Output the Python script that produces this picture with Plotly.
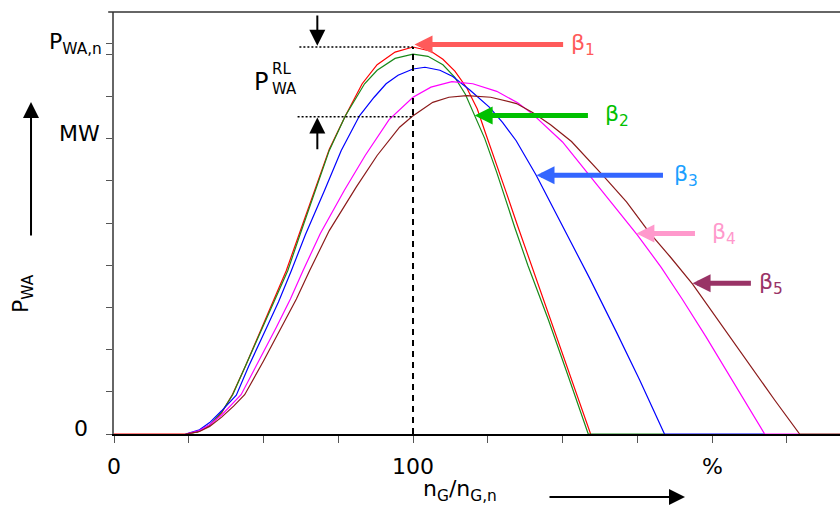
import plotly.graph_objects as go

# ---- data (x in % of n_G,n, y in tick units of P_WA) ----
beta1_x = [0, 24, 28, 32, 36, 39.5, 44, 49.5, 54, 57.6, 62, 67, 72, 77.4, 83, 88, 94, 100, 106, 110, 114, 118, 121.5, 124, 127, 131.2, 135, 139, 146, 152.5, 159.4]
beta1_y = [0, 0, 0.05, 0.2, 0.5, 0.92, 1.62, 2.53, 3.28, 3.87, 4.75, 5.77, 6.75, 7.54, 8.3, 8.75, 9.05, 9.17, 9.07, 8.88, 8.6, 8.2, 7.7, 7.18, 6.55, 5.72, 4.93, 4.12, 2.7, 1.38, 0]

beta2_x = [24, 28, 32, 36, 39.7, 44, 49.8, 54, 58.1, 62, 67.4, 72, 77.4, 83.8, 88, 94, 100, 105, 110, 114, 117.5, 120, 124, 128, 130, 134, 138.4, 145.3, 152, 158.6, 184.1]
beta2_y = [0, 0.05, 0.21, 0.52, 0.93, 1.62, 2.53, 3.22, 3.87, 4.68, 5.77, 6.72, 7.54, 8.3, 8.62, 8.9, 9.0, 8.95, 8.75, 8.45, 8.05, 7.65, 7.0, 6.2, 5.75, 4.9, 4.0, 2.7, 1.35, 0, 0]

beta3_x = [24, 28.6, 32, 36, 40.9, 45, 51.1, 55, 59.3, 64, 70.4, 76, 82.1, 87, 91, 95, 100, 104, 109, 113.3, 119, 125.6, 130, 134.5, 141.2, 150.1, 159, 168, 175.8, 184.1, 217.6]
beta3_y = [0, 0.1, 0.27, 0.55, 0.92, 1.6, 2.53, 3.13, 3.87, 4.72, 5.77, 6.72, 7.54, 7.98, 8.3, 8.5, 8.65, 8.69, 8.62, 8.47, 8.15, 7.74, 7.38, 6.95, 6.13, 4.92, 3.7, 2.42, 1.28, 0, 0]

beta4_x = [24, 28.6, 32, 36, 42.5, 48, 54.3, 59, 63.2, 69, 77, 84, 92, 100, 106, 113, 120, 128, 135, 140, 150, 159, 167, 175, 183, 190, 198, 206.9, 217.6, 229.3]
beta4_y = [0, 0.08, 0.22, 0.45, 0.93, 1.66, 2.53, 3.2, 3.87, 4.75, 5.77, 6.6, 7.45, 7.98, 8.22, 8.35, 8.3, 8.12, 7.85, 7.58, 6.92, 6.13, 5.42, 4.72, 3.95, 3.2, 2.3, 1.25, 0, 0]

beta5_x = [24, 28.6, 32, 36, 40, 43.7, 50, 55.9, 61, 65.4, 72, 81, 88, 95.5, 99.8, 106.6, 112, 118, 126, 134.6, 140, 146, 153, 163.5, 171.4, 179, 186, 193.5, 200, 207, 214, 221, 229.3, 243]
beta5_y = [0, 0.06, 0.18, 0.4, 0.66, 0.93, 1.73, 2.53, 3.2, 3.87, 4.82, 5.85, 6.6, 7.27, 7.53, 7.86, 7.98, 8.02, 7.98, 7.83, 7.62, 7.33, 6.93, 6.13, 5.5, 4.78, 4.2, 3.55, 2.9, 2.2, 1.5, 0.8, 0, 0]

curve_colors = ["#ff0000", "#1a8a1a", "#0000ff", "#ff00ff", "#8b1a1a"]

# tick values / labels
x_ticks = [0, 25, 50, 75, 100, 125, 150, 175, 200, 225]
x_tick_labels = ["0", "100", "%"]
x_tick_label_pos = [0, 100, 200]
y_ticks = [0, 1, 2, 3, 4, 5, 6, 7, 8, 9, 9.25]
y_tick_labels = ["0", "MW", "P<sub>WA,n</sub>"]
y_tick_label_pos = [0, 7, 9.25]
y_tick_label_shift = [6, 5, 0]
y_tick_label_xshift = [-33, -35, -39]

# reference levels
p_wa_n = 9.17
p_rl_low = 7.52
nominal_x = 100

# beta arrow annotations
beta_labels = ["β<sub>1</sub>", "β<sub>2</sub>", "β<sub>3</sub>", "β<sub>4</sub>", "β<sub>5</sub>"]
beta_tip_x = [100.5, 120.6, 141.3, 174.7, 193.5]
beta_tip_y = [9.23, 7.55, 6.13, 4.75, 3.57]
beta_tail_x = [150.7, 159.0, 184.1, 194.8, 213.5]
beta_label_x = [152.3, 163.4, 186.5, 199.2, 214.9]
beta_arrow_colors = ["#ff5a5a", "#00c000", "#3366ff", "#ff99cc", "#993366"]
beta_text_colors = ["#ff5a5a", "#00c000", "#1aa0ff", "#ff99cc", "#993366"]

FONT = "DejaVu Sans"

fig = go.Figure()
series = [(beta1_x, beta1_y), (beta2_x, beta2_y), (beta3_x, beta3_y), (beta4_x, beta4_y), (beta5_x, beta5_y)]
for i, (xs, ys) in enumerate(series):
    fig.add_trace(go.Scatter(x=xs, y=ys, mode="lines",
                             line=dict(color=curve_colors[i], width=1.2),
                             showlegend=False, hoverinfo="skip", cliponaxis=False))

shapes = []
shapes.append(dict(type="line", xref="x", yref="y", x0=nominal_x, x1=nominal_x, y0=0, y1=p_wa_n,
                   line=dict(color="black", width=2, dash="6px,5px")))
shapes.append(dict(type="line", xref="x", yref="y", x0=62, x1=nominal_x, y0=p_wa_n, y1=p_wa_n,
                   line=dict(color="black", width=1.5, dash="2px,2px")))
shapes.append(dict(type="line", xref="x", yref="y", x0=61.4, x1=nominal_x, y0=p_rl_low, y1=p_rl_low,
                   line=dict(color="black", width=1.5, dash="2px,2px")))
shapes.append(dict(type="line", xref="paper", yref="paper", x0=-0.008, x1=1, y0=1, y1=1,
                   line=dict(color="#333", width=1.5)))

ann = []
for t, v in zip(x_tick_labels, x_tick_label_pos):
    ann.append(dict(x=v, y=0, xref="x", yref="paper", text=t, showarrow=False,
                    xanchor="center", yanchor="middle", yshift=-32,
                    font=dict(family=FONT, size=22, color="black")))
for t, v, s, xs in zip(y_tick_labels, y_tick_label_pos, y_tick_label_shift, y_tick_label_xshift):
    ann.append(dict(x=0, y=v, xref="paper", yref="y", text=t, showarrow=False,
                    xanchor="center", yanchor="middle", xshift=xs, yshift=s,
                    font=dict(family=FONT, size=22, color="black")))
ann.append(dict(x=0, y=0, xref="paper", yref="paper", text="P<sub>WA</sub>", textangle=-90,
                showarrow=False, xanchor="center", yanchor="middle", xshift=-92, yshift=140,
                font=dict(family=FONT, size=22, color="black")))
ann.append(dict(x=115.7, y=0, xref="x", yref="paper", text="n<sub>G</sub>/n<sub>G,n</sub>",
                showarrow=False, xanchor="center", yanchor="middle", yshift=-56,
                font=dict(family=FONT, size=22, color="black")))
ann.append(dict(x=49.3, y=8.35, xref="x", yref="y", text="P", showarrow=False,
                xanchor="center", yanchor="middle", font=dict(family=FONT, size=24, color="black")))
ann.append(dict(x=52.3, y=8.64, xref="x", yref="y", text="RL", showarrow=False,
                xanchor="left", yanchor="middle", font=dict(family=FONT, size=15, color="black")))
ann.append(dict(x=52.3, y=8.17, xref="x", yref="y", text="WA", showarrow=False,
                xanchor="left", yanchor="middle", font=dict(family=FONT, size=15, color="black")))

ann.append(dict(x=68, y=9.2, ax=68, ay=9.95, xref="x", yref="y", axref="x", ayref="y",
                showarrow=True, arrowhead=2, arrowsize=1.6, arrowwidth=2, arrowcolor="black", text=""))
ann.append(dict(x=68, y=7.5, ax=68, ay=6.71, xref="x", yref="y", axref="x", ayref="y",
                showarrow=True, arrowhead=2, arrowsize=1.6, arrowwidth=2, arrowcolor="black", text=""))
ann.append(dict(x=-0.1143, y=0.7867, ax=0, ay=135, xref="paper", yref="paper",
                axref="pixel", ayref="pixel", showarrow=True, arrowhead=2, arrowsize=1.6,
                arrowwidth=2, arrowcolor="black", text=""))
ann.append(dict(x=0.7865, y=-0.149, ax=-137, ay=0, xref="paper", yref="paper",
                axref="pixel", ayref="pixel", showarrow=True, arrowhead=2, arrowsize=1.6,
                arrowwidth=2, arrowcolor="black", text=""))

for lab, tx, ty, sx, lx, ac, tc in zip(beta_labels, beta_tip_x, beta_tip_y, beta_tail_x, beta_label_x,
                                       beta_arrow_colors, beta_text_colors):
    ann.append(dict(x=tx, y=ty, ax=sx, ay=ty, xref="x", yref="y", axref="x", ayref="y",
                    showarrow=True, arrowhead=2, arrowsize=0.72, arrowwidth=5, arrowcolor=ac, text=""))
    ann.append(dict(x=lx, y=ty, xref="x", yref="y", text=lab, showarrow=False, xanchor="left",
                    yanchor="middle", font=dict(family=FONT, size=22, color=tc)))

fig.update_layout(
    width=840, height=506,
    margin=dict(l=114, r=0, t=12, b=72),
    paper_bgcolor="white", plot_bgcolor="white",
    shapes=shapes, annotations=ann,
    xaxis=dict(range=[0, 242.8], tickvals=x_ticks, ticktext=[""] * len(x_ticks),
               ticks="outside", ticklen=7, tickcolor="#555", tickwidth=1.2,
               showline=True, linecolor="black", linewidth=2, layer="below traces",
               showgrid=False, zeroline=False, fixedrange=True),
    yaxis=dict(range=[0, 10], tickvals=y_ticks, ticktext=[""] * len(y_ticks),
               ticks="outside", ticklen=6, tickcolor="#555", tickwidth=1.2,
               showline=True, linecolor="#666", linewidth=1.5, layer="below traces",
               showgrid=False, zeroline=False, fixedrange=True),
    showlegend=False,
)

fig.write_html("out.html", config={"displayModeBar": False},
               post_script="document.body.style.margin='0';")
